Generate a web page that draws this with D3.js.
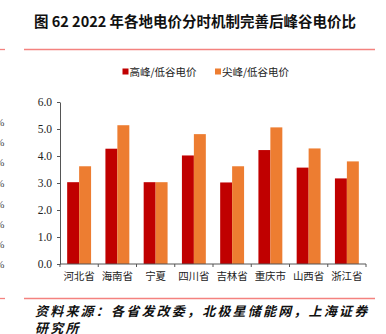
<!DOCTYPE html>
<html><head><meta charset="utf-8">
<script src="https://cdn.jsdelivr.net/npm/d3@7"></script>
<style>
html,body{margin:0;padding:0;background:#fff;}
svg{display:block;}
</style></head>
<body>
<svg id="c" width="386" height="334"></svg>
<script>
const categories = ["河北省","海南省","宁夏","四川省","吉林省","重庆市","山西省","浙江省"];
const seriesNames = ["高峰/低谷电价","尖峰/低谷电价"];
const highValley = [3.03, 4.27, 3.03, 4.02, 3.02, 4.22, 3.57, 3.17];
const peakValley = [3.62, 5.14, 3.03, 4.81, 3.62, 5.06, 4.28, 3.80];
const yTicks = [0,1,2,3,4,5,6];
const colors = ["#C00000","#ED7D31"];
const title = "图 62 2022 年各地电价分时机制完善后峰谷电价比";
const source1 = "资料来源：各省发改委，北极星储能网，上海证券";
const source2 = "研究所";
const leftFragments = [122,142,162,183,204,224,244,264];

const svg = d3.select("#c");
const cjk = "'Noto Sans CJK SC', sans-serif";
const serif = "'Liberation Serif', 'DejaVu Serif', serif";

// title
svg.append("text").attr("x",195).attr("y",27).attr("text-anchor","middle")
  .attr("font-family",cjk).attr("font-weight","bold").attr("font-size",14.5).attr("fill","#111")
  .text(title);

// decorative lines
const lineColor = "#F4827F";
[49.5, 298.5].forEach(y=>{
  svg.append("line").attr("x1",0).attr("x2",5).attr("y1",y).attr("y2",y).attr("stroke",lineColor).attr("stroke-width",1.3);
  svg.append("line").attr("x1",24).attr("x2",375).attr("y1",y).attr("y2",y).attr("stroke",lineColor).attr("stroke-width",1.3);
});

// left clipped % fragments (partially visible at the left edge in the reference)
svg.selectAll("text.frag").data(leftFragments).enter().append("text").attr("class","frag")
  .attr("x",4.5).attr("y",d=>d+4).attr("text-anchor","end")
  .attr("font-family",serif).attr("font-size",11).attr("fill","#444").text("%");

const margin = {left:60, right:366, top:102, bottom:264};
const y = d3.scaleLinear().domain([0,6]).range([margin.bottom, margin.top]);
const x0 = d3.scaleBand().domain(categories).range([margin.left, margin.right]).padding(0);
const x1 = d3.scaleBand().domain(seriesNames).range([0, x0.bandwidth()]).paddingInner(0).paddingOuter(0.6);

// bars
const data = categories.map((c,i)=>({cat:c, vals:[highValley[i], peakValley[i]]}));
const g = svg.append("g");
const groups = g.selectAll("g.grp").data(data).enter().append("g")
  .attr("transform",d=>`translate(${x0(d.cat)},0)`);
groups.selectAll("rect").data(d=>d.vals.map((v,j)=>({v, s:seriesNames[j], j}))).enter().append("rect")
  .attr("x",d=>x1(d.s)).attr("width",x1.bandwidth())
  .attr("y",d=>y(d.v)).attr("height",d=>y(0)-y(d.v))
  .attr("fill",d=>colors[d.j]);

// y axis
const yAxis = d3.axisLeft(y).tickValues(yTicks).tickFormat(d3.format(".1f")).tickSize(3).tickSizeOuter(0);
const ya = svg.append("g").attr("transform",`translate(${margin.left},0)`).call(yAxis);
ya.select(".domain").attr("stroke","#555");
ya.selectAll(".tick line").attr("stroke","#555");
ya.selectAll(".tick text").attr("font-family",serif).attr("font-size",11.5).attr("fill","#222").attr("x",-8);

// x axis
const xa = svg.append("g").attr("transform",`translate(0,${margin.bottom})`);
xa.append("line").attr("x1",margin.left).attr("x2",margin.right).attr("y1",0).attr("y2",0).attr("stroke","#555");
const boundaries = categories.map(c=>x0(c)).concat([margin.right]);
xa.selectAll("line.tk").data(boundaries).enter().append("line").attr("class","tk")
  .attr("x1",d=>d).attr("x2",d=>d).attr("y1",0).attr("y2",3).attr("stroke","#555");
xa.selectAll("text").data(categories).enter().append("text")
  .attr("x",d=>x0(d)+x0.bandwidth()/2).attr("y",16).attr("text-anchor","middle")
  .attr("font-family",cjk).attr("font-size",10.5).attr("fill","#222").text(d=>d);

// legend
const legX = [122.5, 215];
seriesNames.forEach((s,i)=>{
  svg.append("rect").attr("x",legX[i]).attr("y",68.5).attr("width",6).attr("height",6).attr("fill",colors[i]);
  svg.append("text").attr("x",legX[i]+7).attr("y",75.5).attr("font-family",cjk).attr("font-size",10.5)
    .attr("fill","#222").text(s);
});

// source
svg.append("text").attr("x",35).attr("y",315.5).attr("font-family",cjk).attr("font-style","italic")
  .attr("font-weight","bold").attr("font-size",13).attr("fill","#111")
  .attr("letter-spacing",2.2).text(source1);
svg.append("text").attr("x",35).attr("y",333).attr("font-family",cjk).attr("font-style","italic")
  .attr("font-weight","bold").attr("font-size",13).attr("fill","#111")
  .attr("letter-spacing",2.2).text(source2);
</script>
</body></html>
